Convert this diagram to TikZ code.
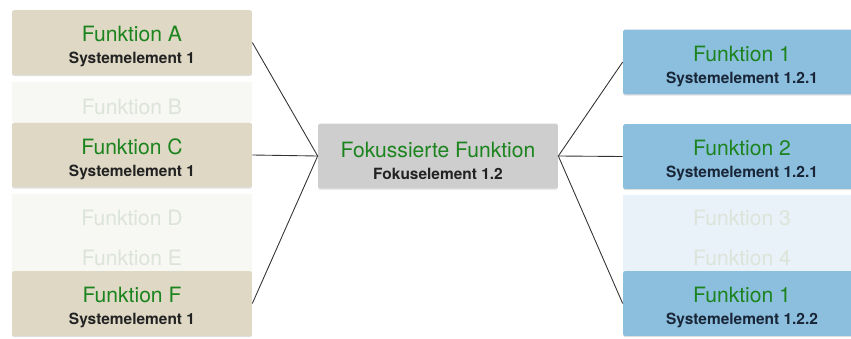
\documentclass[tikz,border=0pt]{standalone}
\usepackage{fontspec}
\setmainfont{TeX Gyre Heros}
\usepackage{tikz}
\usetikzlibrary{shadows}
\definecolor{beige}{RGB}{222,216,196}
\definecolor{skyblue}{RGB}{140,190,222}
\definecolor{focusgray}{RGB}{206,206,206}
\definecolor{titlegreen}{RGB}{28,132,30}
\definecolor{subdark}{RGB}{34,34,34}
\definecolor{subnavy}{RGB}{24,38,56}
\definecolor{fadebeige}{RGB}{247,247,243}
\definecolor{fadeblue}{RGB}{234,242,249}
\definecolor{fadetext}{RGB}{220,228,218}
\newcommand{\boxlines}[2]{{\rule{0pt}{13.8pt}\fontsize{12}{12.5}\selectfont\color{titlegreen}#1}\\\bfseries #2}
\tikzset{
    funcbox/.style={rounded corners=1pt, minimum width=4.8cm, minimum height=1.3cm,
        align=center, inner sep=0pt, text=subdark,
        font=\fontsize{8.8}{12.5}\selectfont,
        drop shadow={opacity=0.25, shadow xshift=0pt, shadow yshift=-0.6pt}},
    leftbox/.style={funcbox, fill=beige},
    rightbox/.style={funcbox, fill=skyblue, text=subnavy},
    focusbox/.style={funcbox, fill=focusgray},
    fadelabel/.style={text=fadetext, font=\fontsize{12}{12.5}\selectfont},
    link/.style={draw=black!80, line width=0.5pt},
}
\begin{document}
\begin{tikzpicture}[x=0.02cm, y=-0.02cm]
\clip (0,0) rectangle (851,338);
\useasboundingbox (0,0) rectangle (851,338);

% faded (hidden) functions
\fill[fadebeige] (12,82) rectangle (252,122);
\fill[fadebeige] (12,194) rectangle (252,272);
\fill[fadeblue] (623,195) rectangle (861,272);
\node[fadelabel] (fb) at (132,107) {Funktion B};
\node[fadelabel] (fd) at (132,218) {Funktion D};
\node[fadelabel] (fe) at (132,258) {Funktion E};
\node[fadelabel] (r3) at (742,218) {Funktion 3};
\node[fadelabel] (r4) at (742,258) {Funktion 4};

% left column
\node[leftbox] (fa) at (132,42.5) {\boxlines{Funktion A}{Systemelement 1}};
\node[leftbox] (fc) at (132,155) {\boxlines{Funktion C}{Systemelement 1}};
\node[leftbox] (ff) at (132,303.5) {\boxlines{Funktion F}{Systemelement 1}};

% focus
\node[focusbox] (focus) at (438,156) {\boxlines{Fokussierte Funktion}{Fokuselement 1.2}};

% right column
\node[rightbox, minimum width=4.76cm] (r1) at (742,62) {\boxlines{Funktion 1}{Systemelement 1.2.1}};
\node[rightbox, minimum width=4.76cm] (r2) at (742,156.5) {\boxlines{Funktion 2}{Systemelement 1.2.1}};
\node[rightbox, minimum width=4.76cm] (r5) at (742,303.5) {\boxlines{Funktion 1}{Systemelement 1.2.2}};

% connectors
\foreach \n in {fa,fc,ff}
    \draw[link] (\n.east) -- (focus.west);
\foreach \n in {r1,r2,r5}
    \draw[link] (focus.east) -- (\n.west);
\end{tikzpicture}
\end{document}
